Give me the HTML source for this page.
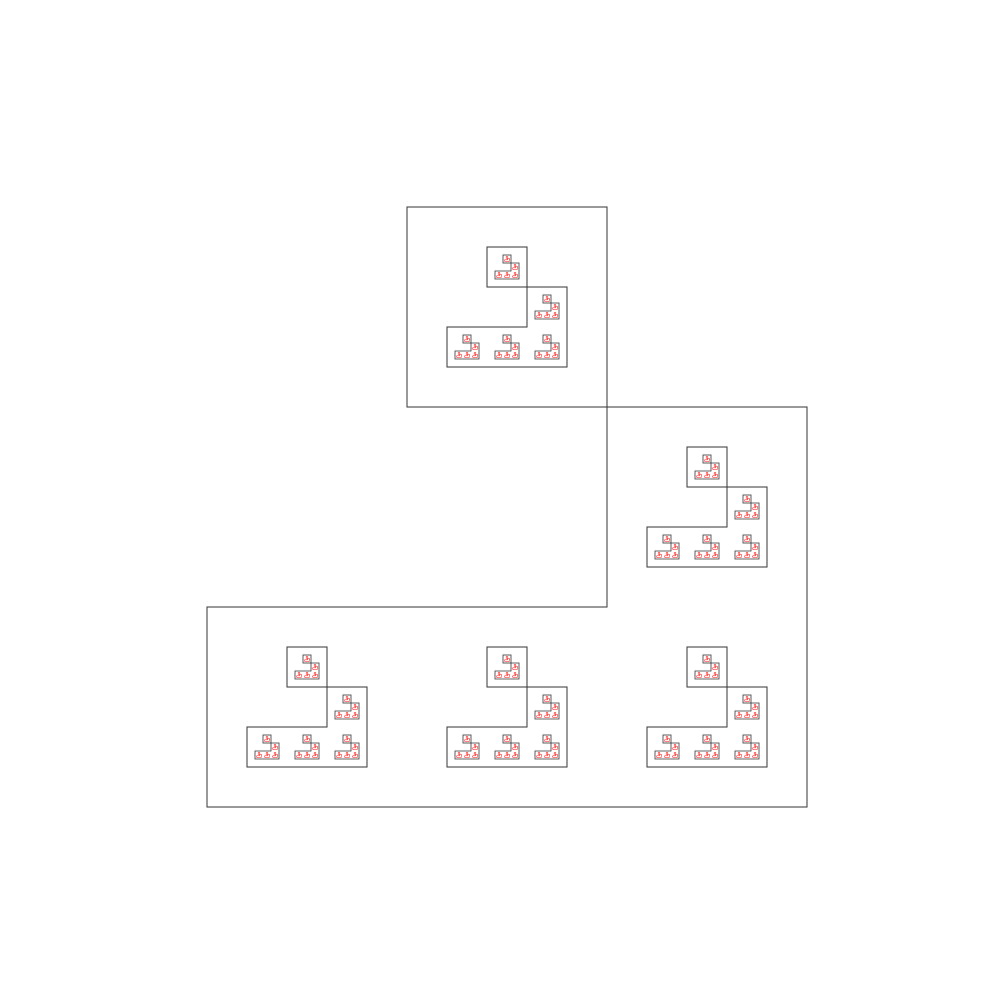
<!DOCTYPE html>
<html><head><meta charset="utf-8"><style>
html,body{margin:0;padding:0;background:#fff;}
svg{display:block;}
</style></head><body>
<svg id="chart" width="1008" height="1008" viewBox="0 0 1008 1008" xmlns="http://www.w3.org/2000/svg">
<rect width="1008" height="1008" fill="#fff"/>
<g id="layer"></g>
</svg>
<script>
// Grid cells occupied by the L-shaped motif (column,row) in a 3x3 grid
const cellCols = [1, 2, 0, 1, 2];
const cellRows = [0, 1, 2, 2, 2];
const levelColors = ["#333", "#333", "#333", "#ff0000"];
const levelWidths = [1, 1, 0.8, 0.5];
const rootOrigin = [207, 207];
const rootSize = 600;
const innerScale = 0.6;

const NS = "http://www.w3.org/2000/svg";
const layer = document.getElementById("layer");

function drawMotif(x, y, s, level) {
  const c = s / 3;
  const col = levelColors[level];
  const sw = levelWidths[level];
  const sq = document.createElementNS(NS, "rect");
  sq.setAttribute("x", x + c); sq.setAttribute("y", y);
  sq.setAttribute("width", c); sq.setAttribute("height", c);
  sq.setAttribute("fill", "none"); sq.setAttribute("stroke", col);
  sq.setAttribute("stroke-width", sw);
  
  
  layer.appendChild(sq);
  const p = document.createElementNS(NS, "polygon");
  const pts = [[x+2*c,y+c],[x+3*c,y+c],[x+3*c,y+3*c],[x,y+3*c],[x,y+2*c],[x+2*c,y+2*c]];
  p.setAttribute("points", pts.map(q => q.join(",")).join(" "));
  p.setAttribute("fill", "none"); p.setAttribute("stroke", col);
  p.setAttribute("stroke-width", sw);
  
  
  layer.appendChild(p);
  if (level + 1 < levelColors.length) {
    const ns = c * innerScale, m = (c - ns) / 2;
    for (let i = 0; i < cellCols.length; i++) {
      drawMotif(x + cellCols[i] * c + m, y + cellRows[i] * c + m, ns, level + 1);
    }
  }
}
drawMotif(rootOrigin[0], rootOrigin[1], rootSize, 0);
</script>
</body></html>
